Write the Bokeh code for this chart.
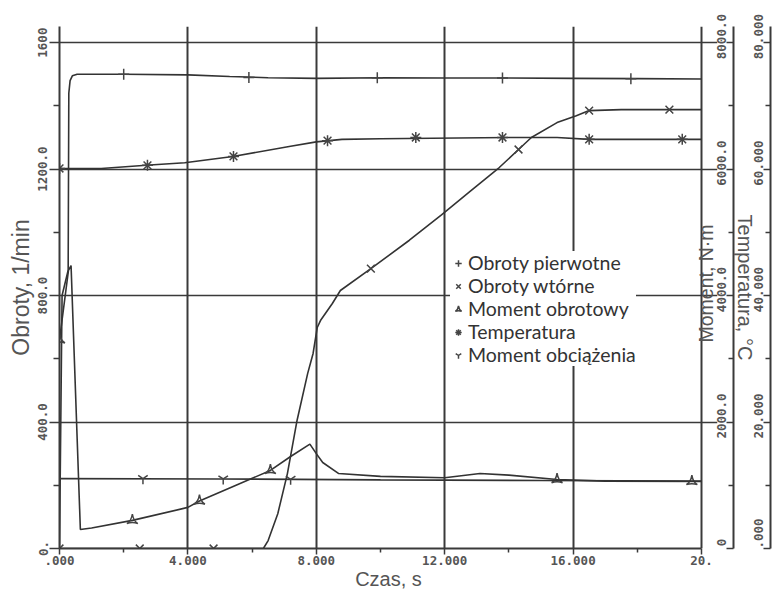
import math
from bokeh.plotting import figure
from bokeh.models import Range1d, LinearAxis, FixedTicker, Legend, LegendItem, Label
from bokeh.embed import file_html
from bokeh.resources import INLINE

# ---------------- data ----------------
x_tick_values = [0, 4, 8, 12, 16, 20]
x_tick_labels = [".000", "4.000", "8.000", "12.000", "16.000", "20."]
x_minor_ticks = [2, 6, 10, 14, 18]

obroty_tick_values = [0, 400, 800, 1200, 1600]
obroty_tick_labels = ["0.", "400.0", "800.0", "1200.0", "1600"]
obroty_minor_ticks = [200, 600, 1000, 1400]

moment_tick_values = [0, 2000, 4000, 6000, 8000]
moment_tick_labels = ["0", "2000.0", "4000.0", "6000.0", "8000.0"]
moment_minor_ticks = [1000, 3000, 5000, 7000]

temp_tick_values = [0, 20, 40, 60, 80]
temp_tick_labels = [".000", "20.000", "40.000", "60.000", "80.000"]
temp_minor_ticks = [10, 30, 50, 70]

# Obroty pierwotne, 1/min
t_pierwotne = [0, 0.08, 0.27, 0.29, 0.33, 0.4, 0.55, 2.0, 4.0, 5.3, 6.5, 8.0, 10.0, 12.0, 14.0, 16.0, 18.0, 20.0]
obroty_pierwotne = [0, 800, 880, 1440, 1480, 1495, 1500, 1500, 1498, 1493, 1489, 1487, 1489, 1488, 1488, 1487, 1486, 1485]
t_pierwotne_mk = [2.0, 5.9, 9.9, 13.8, 17.8]
obroty_pierwotne_mk = [1500, 1490, 1489, 1488, 1486]

# Obroty wtorne, 1/min
t_wtorne = [0, 2.5, 4.8, 6.35, 6.5, 6.8, 7.1, 7.4, 7.73, 7.9, 8.03, 8.13, 8.5, 8.75, 9.7, 10.9,
            11.9, 12.8, 13.7, 14.3, 14.7, 15.5, 16.1, 16.5, 17.5, 19.0, 20.0]
obroty_wtorne = [0, 0, 0, 0, 25, 110, 237, 405, 553, 617, 699, 721, 775, 816, 885, 975,
                 1055, 1130, 1205, 1262, 1300, 1347, 1369, 1385, 1388, 1388, 1388]
t_wtorne_mk = [0, 2.5, 4.8, 9.7, 14.3, 16.5, 19.0]
obroty_wtorne_mk = [0, 0, 0, 885, 1262, 1385, 1388]

# Moment obrotowy, N*m
t_moment = [0, 0.28, 0.36, 0.65, 1.0, 2.27, 4.0, 4.36, 5.5, 6.57, 7.2, 7.8, 8.0, 8.2, 8.7,
            10.0, 12.0, 13.1, 14.0, 15.5, 17.0, 20.0]
moment_obrotowy = [3300, 4400, 4475, 300, 325, 445, 650, 750, 1000, 1235, 1455, 1650, 1500, 1360, 1185,
                   1140, 1120, 1185, 1160, 1090, 1065, 1060]
t_moment_mk = [0, 2.27, 4.36, 6.57, 15.5, 19.7]
moment_obrotowy_mk = [3300, 445, 750, 1235, 1090, 1060]

# Temperatura, deg C
t_temp = [0, 1.3, 2.7, 3.9, 5.4, 7.2, 8.0, 8.8, 10.0, 14.0, 15.5, 16.5, 20.0]
temperatura = [60.1, 60.1, 60.6, 61.0, 62.0, 63.6, 64.3, 64.7, 64.8, 65.0, 65.0, 64.7, 64.7]
t_temp_mk = [0, 2.74, 5.42, 8.35, 11.1, 13.8, 16.5, 19.4]
temperatura_mk = [60.1, 60.6, 62.0, 64.5, 65.0, 65.0, 64.7, 64.7]

# Moment obciazenia, N*m
t_obc = [0, 5, 10, 15, 20]
moment_obciazenia = [1105, 1100, 1085, 1075, 1065]
t_obc_mk = [2.6, 5.1, 7.2]
moment_obciazenia_mk = [1105, 1100, 1095]

# ---------------- layout constants ----------------
INK = "#3a3a3a"
TXT = "#555555"
TICK_FONT = "DejaVu Sans Mono"
TITLE_FONT = "Liberation Sans"
TICK_PX = 12.5
CHAR_W = 0.602 * TICK_PX      # monospace advance
LABEL_LIFT = 6                # labels sit a little above their tick

W, H = 781, 593
B_LEFT, B_TOP, B_BOTTOM = 59, 26, 45
T_MAX = 20
PX_PER_T = 642 / T_MAX        # 20 s span 642 px
FRAME_RIGHT = 717             # frame runs a little past t=20 so the moment title fits in it
B_RIGHT = W - FRAME_RIGHT
FRAME_H = H - B_TOP - B_BOTTOM
X_END = (FRAME_RIGHT - B_LEFT) / PX_PER_T

OBR_MAX = 1651
MOM_MAX = OBR_MAX * 5
TEMP_MAX = OBR_MAX * 0.05

p = figure(width=W, height=H, output_backend="svg", toolbar_location=None,
           x_range=Range1d(0, X_END), y_range=Range1d(0, OBR_MAX),
           min_border_left=B_LEFT, min_border_right=B_RIGHT,
           min_border_top=B_TOP, min_border_bottom=B_BOTTOM)
p.extra_y_ranges = {"moment": Range1d(0, MOM_MAX), "temp": Range1d(0, TEMP_MAX)}
p.outline_line_color = None
p.background_fill_color = "white"
p.border_fill_color = "white"

# grid
p.xgrid.ticker = FixedTicker(ticks=x_tick_values)
p.ygrid.ticker = FixedTicker(ticks=obroty_tick_values)
p.xgrid.grid_line_color = INK
p.xgrid.grid_line_width = 2
p.ygrid.grid_line_color = INK
p.ygrid.grid_line_width = 1.5


def base_style(ax):
    ax.major_label_text_font = TICK_FONT
    ax.major_label_text_font_style = "bold"
    ax.major_label_text_font_size = f"{TICK_PX}px"
    ax.major_label_text_color = TXT
    ax.axis_label_text_font = TITLE_FONT
    ax.axis_label_text_font_style = "normal"
    ax.axis_label_text_color = TXT
    ax.axis_line_color = INK
    ax.axis_line_width = 2
    ax.major_tick_line_color = INK
    ax.major_tick_line_width = 1.5
    ax.minor_tick_line_color = INK
    ax.minor_tick_line_width = 1.5


def no_ticks(ax):
    ax.major_tick_out = 0
    ax.major_tick_in = 0
    ax.minor_tick_out = 0
    ax.minor_tick_in = 0


# x axis
xa = p.xaxis[0]
base_style(xa)
xa.bounds = (0, T_MAX)
xa.ticker = FixedTicker(ticks=x_tick_values, minor_ticks=x_minor_ticks)
xa.major_label_overrides = dict(zip(x_tick_values, x_tick_labels))
xa.major_tick_out = 6
xa.major_tick_in = 0
xa.minor_tick_out = 4
xa.minor_tick_in = 0
xa.major_label_standoff = 1
xa.axis_label = "Czas, s"
xa.axis_label_standoff = 0
xa.axis_label_text_font_size = "20px"

# left axis
ya = p.yaxis[0]
base_style(ya)
ya.ticker = FixedTicker(ticks=obroty_tick_values, minor_ticks=obroty_minor_ticks)
ya.major_label_overrides = dict(zip(obroty_tick_values, obroty_tick_labels))
ya.major_label_orientation = "vertical"
ya.major_tick_out = 10
ya.major_tick_in = 0
ya.minor_tick_out = 6
ya.minor_tick_in = 0
ya.major_label_standoff = 2
ya.axis_label = "Obroty, 1/min"
ya.axis_label_standoff = 2
ya.axis_label_text_font_size = "23px"


def label_axis(range_name, span, values, labels, standoff):
    # labels read bottom-to-top and start at their anchor: shift anchors so
    # each label is centred (slightly lifted) on its tick
    upp = span / FRAME_H
    pos = [max(0.0, v - (len(lbl) * CHAR_W / 2 - LABEL_LIFT) * upp) for v, lbl in zip(values, labels)]
    ax = LinearAxis(y_range_name=range_name, ticker=FixedTicker(ticks=pos))
    base_style(ax)
    ax.major_label_overrides = dict(zip(pos, labels))
    ax.major_label_orientation = math.pi / 2
    ax.axis_line_color = None
    ax.major_tick_line_color = None
    ax.minor_tick_line_color = None
    no_ticks(ax)
    ax.major_label_standoff = standoff
    return ax


def line_axis(range_name, values, minor):
    ax = LinearAxis(y_range_name=range_name, ticker=FixedTicker(ticks=values, minor_ticks=minor))
    base_style(ax)
    ax.major_label_overrides = {v: "" for v in values}
    ax.major_tick_out = 0
    ax.major_tick_in = 7
    ax.minor_tick_out = 0
    ax.minor_tick_in = 5
    ax.major_label_standoff = 0
    return ax


def title_axis(range_name, text, font_px):
    ax = LinearAxis(y_range_name=range_name, ticker=FixedTicker(ticks=[]), axis_label=text)
    base_style(ax)
    ax.axis_line_color = None
    no_ticks(ax)
    ax.major_label_standoff = 0
    ax.axis_label_standoff = 0
    ax.axis_label_text_font_size = f"{font_px}px"
    return ax


# Moment axis labels
p.add_layout(label_axis("moment", MOM_MAX, moment_tick_values, moment_tick_labels, 4), "right")
# Temperature axis: line, title, labels
p.add_layout(line_axis("temp", temp_tick_values, temp_minor_ticks), "right")
p.add_layout(title_axis("temp", "Temperatura, °C", 20), "right")
p.add_layout(label_axis("temp", TEMP_MAX, temp_tick_values, temp_tick_labels, 0), "right")
# third (cut-off) axis at the right edge
p.add_layout(line_axis("moment", moment_tick_values, moment_minor_ticks), "right")

# Moment title, just right of the t=20 line (through the plot scales)
moment_title = Label(x=T_MAX + 4 / PX_PER_T, y=(H - B_BOTTOM - 283) * MOM_MAX / FRAME_H,
                     y_range_name="moment", text="Moment, N·m", angle=math.pi / 2,
                     text_align="center", text_baseline="middle", text_font=TITLE_FONT,
                     text_font_size="19.5px", text_color=TXT)
p.add_layout(moment_title)

# ---------------- series ----------------
LINE = "#333333"
MK = "#444444"

p.line(t_pierwotne, obroty_pierwotne, line_color=LINE, line_width=1.6)
s1 = p.scatter(t_pierwotne_mk, obroty_pierwotne_mk, marker="cross", size=11,
               line_color=MK, line_width=1.5)

p.line(t_wtorne, obroty_wtorne, line_color=LINE, line_width=1.6)
s2 = p.scatter(t_wtorne_mk, obroty_wtorne_mk, marker="x", size=11,
               line_color=MK, line_width=1.5)

p.line(t_moment, moment_obrotowy, line_color=LINE, line_width=1.6, y_range_name="moment")
s3 = p.scatter(t_moment_mk, moment_obrotowy_mk, marker="triangle_pin", size=11, fill_color=None,
               line_color=MK, line_width=1.5, y_range_name="moment")

p.line(t_temp, temperatura, line_color=LINE, line_width=1.6, y_range_name="temp")
s4 = p.scatter(t_temp_mk, temperatura_mk, marker="asterisk", size=11,
               line_color=MK, line_width=1.5, y_range_name="temp")

p.line(t_obc, moment_obciazenia, line_color=LINE, line_width=1.6, y_range_name="moment")
s5 = p.scatter(t_obc_mk, moment_obciazenia_mk, marker="y", size=11,
               line_color=MK, line_width=1.5, y_range_name="moment")

legend = Legend(items=[
    LegendItem(label="Obroty pierwotne", renderers=[s1]),
    LegendItem(label="Obroty wtórne", renderers=[s2]),
    LegendItem(label="Moment obrotowy", renderers=[s3]),
    LegendItem(label="Temperatura", renderers=[s4]),
    LegendItem(label="Moment obciążenia", renderers=[s5]),
], location=(391, 182))
legend.border_line_color = None
legend.background_fill_color = "white"
legend.background_fill_alpha = 1.0
legend.label_text_font = "Lato"
legend.label_text_font_size = "19.5px"
legend.label_text_color = "#333333"
legend.glyph_width = 16
legend.glyph_height = 20
legend.label_height = 20
legend.spacing = 0
legend.padding = 2
legend.margin = 0
legend.label_standoff = 2
p.add_layout(legend)

open("out.html", "w").write(file_html(p, INLINE))
